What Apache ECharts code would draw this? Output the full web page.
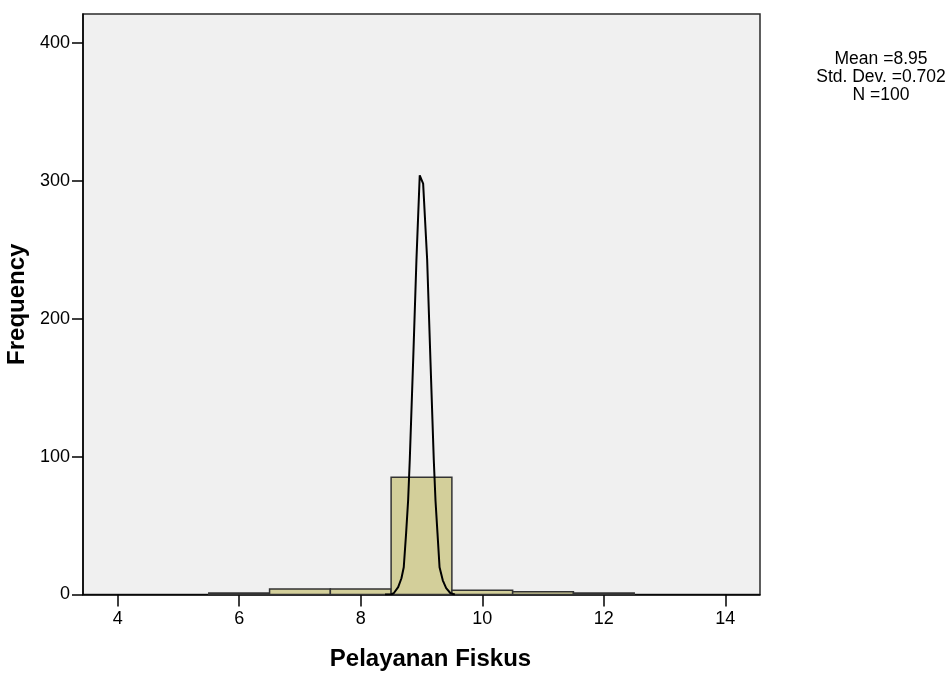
<!DOCTYPE html>
<html>
<head>
<meta charset="utf-8">
<script src="https://cdn.jsdelivr.net/npm/echarts@6/dist/echarts.min.js"></script>
<style>html,body{margin:0;padding:0;background:#fff;}#c{width:952px;height:673px;}</style>
</head>
<body>
<div id="c"></div>
<script>
var binCenters = [6, 7, 8, 9, 10, 11, 12];
var binCounts = [1, 4, 4, 85, 3, 2, 1];
var binWidth = 1;
var curveX = [8.40, 8.505, 8.543, 8.616, 8.670, 8.708, 8.747, 8.780, 8.807, 8.863, 8.917, 8.971, 9.027, 9.093, 9.147, 9.202, 9.230, 9.263, 9.297, 9.350, 9.406, 9.477, 9.55];
var curveY = [0, 0.2, 0.9, 5.3, 11.8, 19.8, 44.5, 68.4, 97.7, 170, 243, 304, 298, 243, 170, 97.7, 68.4, 44.5, 19.8, 10.3, 4.6, 0.9, 0];
var xTicks = [4, 6, 8, 10, 12, 14];
var statLines = ['Mean =8.95', 'Std. Dev. =0.702', 'N =100'];

var chart = echarts.init(document.getElementById('c'));
var barData = binCenters.map(function (c, i) { return [c - binWidth / 2, c + binWidth / 2, binCounts[i]]; });
var curveData = curveX.map(function (x, i) { return [x, curveY[i]]; });
var font = 'Liberation Sans, Arial, sans-serif';

chart.setOption({
  animation: false,
  grid: { left: 83, top: 14, width: 677, height: 580.5, containLabel: false, outerBoundsMode: 'none', show: true, backgroundColor: '#F0F0F0', borderColor: '#2a2a2a', borderWidth: 1.5 },
  xAxis: {
    type: 'value', min: 3.43, max: 14.57,
    splitLine: { show: false },
    axisLine: { lineStyle: { color: '#000', width: 1.5 } },
    axisTick: { customValues: xTicks, length: 12, lineStyle: { color: '#000', width: 1.5 } },
    axisLabel: { customValues: xTicks, color: '#000', fontSize: 18, fontFamily: font, margin: 16 },
    name: 'Pelayanan Fiskus', nameLocation: 'middle', nameGap: 53,
    nameTextStyle: { color: '#000', fontSize: 24, fontWeight: 'bold', fontFamily: font, padding: [0, 0, 0, 18] }
  },
  yAxis: {
    type: 'value', min: 0, max: 421, interval: 100,
    splitLine: { show: false },
    axisLine: { show: true, lineStyle: { color: '#000', width: 1.5 } },
    axisTick: { show: true, length: 11, lineStyle: { color: '#000', width: 1.5 } },
    axisLabel: { color: '#000', fontSize: 18, fontFamily: font, margin: 13, showMaxLabel: false },
    name: 'Frequency', nameLocation: 'middle', nameGap: 45,
    nameTextStyle: { color: '#000', fontSize: 24, fontWeight: 'bold', fontFamily: font }
  },
  graphic: statLines.map(function (t, i) {
    return { type: 'text', x: 881, y: 59 + i * 18, style: { text: t, fill: '#000', font: '17.5px ' + font, textAlign: 'center', textVerticalAlign: 'middle' } };
  }),
  series: [
    {
      type: 'custom',
      data: barData,
      encode: { x: [0, 1], y: 2 },
      renderItem: function (params, api) {
        var p0 = api.coord([api.value(0), api.value(2)]);
        var p1 = api.coord([api.value(1), 0]);
        return {
          type: 'rect',
          shape: { x: p0[0], y: p0[1], width: p1[0] - p0[0], height: p1[1] - p0[1] },
          style: { fill: '#D3CF9A', stroke: '#333', lineWidth: 1.5 }
        };
      },
      z: 2
    },
    {
      type: 'line', data: curveData, symbol: 'none', smooth: false,
      lineStyle: { color: '#000', width: 2 }, z: 3
    }
  ]
});
</script>
</body>
</html>
